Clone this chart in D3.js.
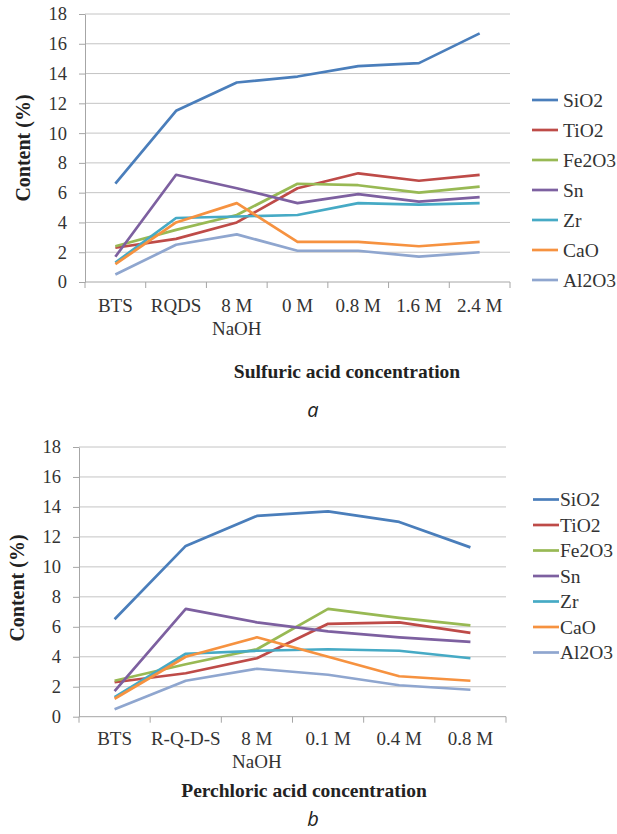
<!DOCTYPE html>
<html><head><meta charset="utf-8">
<script src="https://cdn.jsdelivr.net/npm/d3@7"></script>
<style>
html,body{margin:0;padding:0;background:#fff;}
svg{display:block;}
</style></head>
<body>
<svg id="chart" width="617" height="834"></svg>
<script>
// ---- data ----
const seriesNames = ["SiO2","TiO2","Fe2O3","Sn","Zr","CaO","Al2O3"];
const yTicks = [0,2,4,6,8,10,12,14,16,18];

const catsA = ["BTS","RQDS","8 M|NaOH","0 M","0.8 M","1.6 M","2.4 M"];
const sio2A  = [6.6,11.5,13.4,13.8,14.5,14.7,16.7];
const tio2A  = [2.3,2.9,4.0,6.3,7.3,6.8,7.2];
const fe2o3A = [2.4,3.5,4.5,6.6,6.5,6.0,6.4];
const snA    = [1.7,7.2,6.3,5.3,5.9,5.4,5.7];
const zrA    = [1.3,4.3,4.4,4.5,5.3,5.2,5.3];
const caoA   = [1.2,4.0,5.3,2.7,2.7,2.4,2.7];
const al2o3A = [0.5,2.5,3.2,2.1,2.1,1.7,2.0];

const catsB = ["BTS","R-Q-D-S","8 M|NaOH","0.1 M","0.4 M","0.8 M"];
const sio2B  = [6.5,11.4,13.4,13.7,13.0,11.3];
const tio2B  = [2.3,2.9,3.9,6.2,6.3,5.6];
const fe2o3B = [2.4,3.5,4.5,7.2,6.6,6.1];
const snB    = [1.7,7.2,6.3,5.7,5.3,5.0];
const zrB    = [1.3,4.2,4.4,4.5,4.4,3.9];
const caoB   = [1.2,4.0,5.3,4.0,2.7,2.4];
const al2o3B = [0.5,2.4,3.2,2.8,2.1,1.8];

const titleA = "Sulfuric acid concentration";
const titleB = "Perchloric acid concentration";
const yLabel = "Content (%)";

// ---- styles ----
const colors = ["#4A7EBB","#BE4B48","#98B954","#7D60A0","#46AAC5","#F69240","#8FA6CF"];
const SERIF = "'Liberation Serif','Times New Roman',serif";

const svg = d3.select("#chart");

function drawChart(cfg){
  const g = svg.append("g");
  const x = d3.scaleBand().domain(cfg.cats).range([cfg.x0, cfg.x1]).padding(0);
  const y = d3.scaleLinear().domain([0,18]).range([cfg.yb, cfg.yt]);

  // gridlines
  g.append("g").selectAll("line").data(yTicks.filter(d=>d>0)).join("line")
    .attr("x1", cfg.x0).attr("x2", cfg.x1)
    .attr("y1", d=>y(d)).attr("y2", d=>y(d))
    .attr("stroke","#C4C4C4").attr("stroke-width",1);

  // y axis
  const ya = g.append("g").attr("transform",`translate(${cfg.x0},0)`)
    .call(d3.axisLeft(y).tickValues(yTicks).tickSize(6).tickSizeOuter(0).tickPadding(cfg.yPad));
  ya.select(".domain").attr("stroke","#A6A6A6");
  ya.selectAll(".tick line").attr("stroke","#A6A6A6");
  ya.selectAll(".tick text").style("font-family",SERIF).style("font-size","18.5px").attr("fill","#333");

  // x axis line + ticks at band boundaries
  g.append("line").attr("x1",cfg.x0).attr("x2",cfg.x1).attr("y1",y(0)).attr("y2",y(0))
    .attr("stroke","#A6A6A6");
  const bounds = cfg.cats.map(c=>x(c)).concat([cfg.x1]);
  g.append("g").selectAll("line").data(bounds).join("line")
    .attr("x1",d=>d).attr("x2",d=>d).attr("y1",y(0)).attr("y2",y(0)+6)
    .attr("stroke","#A6A6A6");

  // x labels
  const xl = g.append("g").selectAll("text").data(cfg.cats).join("text")
    .attr("text-anchor","middle").style("font-family",SERIF).style("font-size","19px").attr("fill","#333")
    .attr("x", d=>x(d)+x.bandwidth()/2).attr("y", cfg.lab1);
  xl.each(function(d){
    const parts = d.split("|");
    const t = d3.select(this);
    parts.forEach((p,i)=>{
      t.append("tspan").attr("x", x(d)+x.bandwidth()/2).attr("y", i===0?cfg.lab1:cfg.lab2).text(p);
    });
  });

  // lines
  const line = d3.line().x((d,i)=>x(cfg.cats[i])+x.bandwidth()/2).y(d=>y(d));
  g.append("g").selectAll("path").data(cfg.series).join("path")
    .attr("d", d=>line(d)).attr("fill","none")
    .attr("stroke",(d,i)=>colors[i]).attr("stroke-width",2.7)
    .attr("stroke-linejoin","round").attr("stroke-linecap","butt");

  // legend
  const lg = g.append("g").selectAll("g").data(seriesNames).join("g")
    .attr("transform",(d,i)=>`translate(${cfg.lx},${cfg.ly + i*cfg.ldy})`);
  lg.append("line").attr("x1",0).attr("x2",26).attr("y1",0).attr("y2",0)
    .attr("stroke",(d,i)=>colors[i]).attr("stroke-width",2.7);
  lg.append("text").attr("x",cfg.ltx).attr("y",0).attr("dy","0.34em")
    .style("font-family",SERIF).style("font-size","19.5px").attr("fill","#333").text(d=>d);

  // y label
  g.append("text").attr("transform",`translate(${cfg.ylx},${cfg.yly}) rotate(-90)`)
    .attr("text-anchor","middle").attr("dy","0.34em")
    .style("font-family",SERIF).style("font-weight","bold").style("font-size","20px")
    .attr("fill","#222").text(yLabel);

  // x title
  g.append("text").attr("x",cfg.tx).attr("y",cfg.ty).attr("text-anchor","middle")
    .style("font-family",SERIF).style("font-weight","bold").style("font-size","19.5px")
    .attr("fill","#222").text(cfg.title);

  // panel letter
  g.append("text").attr("x",cfg.px).attr("y",cfg.py).attr("text-anchor","middle")
    .style("font-family","'Open Sans',sans-serif").style("font-style","italic").style("font-size","20px")
    .attr("fill","#222").text(cfg.panel);
}

drawChart({
  cats: catsA,
  series: [sio2A,tio2A,fe2o3A,snA,zrA,caoA,al2o3A],
  x0:85, x1:510, yt:14, yb:282, yPad:12,
  lab1:311.5, lab2:335,
  lx:532, ly:100, ldy:30, ltx:31,
  ylx:23, yly:148,
  title:titleA, tx:347, ty:378,
  panel:"a", px:313, py:417
});

drawChart({
  cats: catsB,
  series: [sio2B,tio2B,fe2o3B,snB,zrB,caoB,al2o3B],
  x0:79, x1:506, yt:447, yb:716.7, yPad:12,
  lab1:745, lab2:767.5,
  lx:533, ly:499.5, ldy:25.5, ltx:27,
  ylx:17, yly:588,
  title:titleB, tx:304, ty:797,
  panel:"b", px:313, py:826
});
</script>
</body></html>
